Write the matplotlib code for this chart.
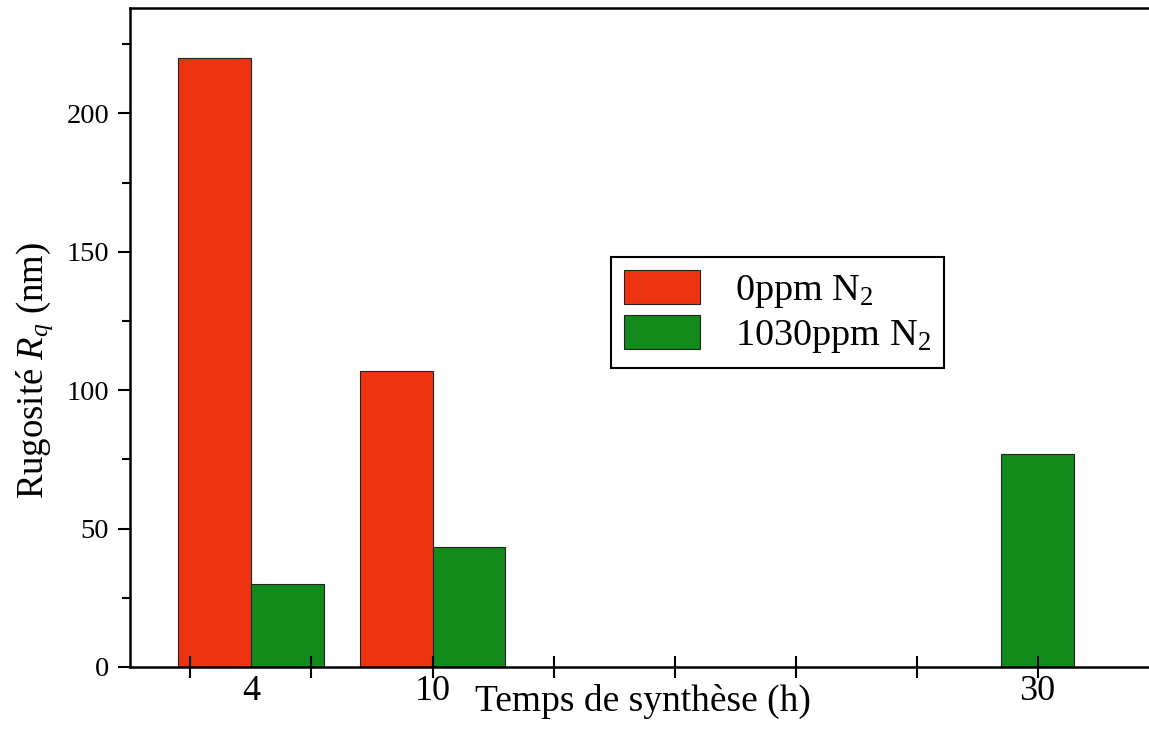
import numpy as np
import matplotlib
matplotlib.use("Agg")
import matplotlib.pyplot as plt
from matplotlib.ticker import MultipleLocator

# Donnees
temps = ["4", "10", "30"]
pos_groupes = [0.5, 2.0, 7.0]
rq_0ppm = [220, 107, np.nan]
rq_1030ppm = [30, 43.5, 77]
legendes = [r"0ppm N$_2$", r"1030ppm N$_2$"]

plt.rcParams['font.family'] = ['Liberation Serif', 'DejaVu Serif']
plt.rcParams['mathtext.fontset'] = 'custom'
plt.rcParams['mathtext.rm'] = 'Liberation Serif'
plt.rcParams['mathtext.it'] = 'Liberation Serif:italic'

rouge = "#ee3311"
vert = "#128a1c"
largeur = 0.6

fig = plt.figure(figsize=(11.49, 7.37), dpi=100)
ax = fig.add_axes([0.1131, 0.095, 0.948, 0.894])

# position des barres: cote a cote si les deux series existent
x_rouge = []
x_vert = []
for i in range(len(temps)):
    if np.isnan(rq_0ppm[i]):
        x_rouge.append(np.nan)
        x_vert.append(pos_groupes[i])
    else:
        x_rouge.append(pos_groupes[i] - largeur / 2)
        x_vert.append(pos_groupes[i] + largeur / 2)

ok = ~np.isnan(np.array(rq_0ppm))
ax.bar(np.array(x_rouge)[ok], np.array(rq_0ppm)[ok], width=largeur,
       color=rouge, edgecolor="#222222", linewidth=0.8, label=legendes[0])
ax.bar(x_vert, rq_1030ppm, width=largeur,
       color=vert, edgecolor="#222222", linewidth=0.8, label=legendes[1])

ax.set_xlim(-0.5, 8.5)
ax.set_ylim(0, 238)

# axe y
ax.yaxis.set_major_locator(MultipleLocator(50))
ax.yaxis.set_minor_locator(MultipleLocator(25))
ax.tick_params(axis='y', which='major', direction='out', length=9, width=1.5,
               labelsize=20.5, pad=6)
ax.tick_params(axis='y', which='minor', direction='out', length=6, width=1.5)

# axe x : graduations regulieres, etiquettes aux groupes
ax.xaxis.remove_overlapping_locs = False
ax.set_xticks(range(0, 9))
ax.set_xticklabels([""] * 9)
ax.set_xticks(pos_groupes, temps, minor=True)
ax.tick_params(axis='x', which='major', direction='inout', length=16, width=1.5)
ax.tick_params(axis='x', which='minor', length=0, labelsize=26, pad=6)

for s in ax.spines.values():
    s.set_linewidth(1.8)

ax.set_xlabel("Temps de synthèse (h)", fontsize=27)
ax.xaxis.set_label_coords(0.471, -0.025)
ax.set_ylabel(r"Rugosité $R_q$ (nm)", fontsize=26.5)
ax.yaxis.set_label_coords(-0.069, 0.45)

leg = ax.legend(loc='upper left', bbox_to_anchor=(0.4417, 0.622),
                borderaxespad=0, fontsize=27.5, fancybox=False,
                edgecolor='black', framealpha=1, handlelength=2.0,
                handleheight=1.0, handletextpad=0.9, labelspacing=0.12,
                borderpad=0.34)
leg.get_frame().set_linewidth(1.5)

fig.savefig("out.png", dpi=100)
